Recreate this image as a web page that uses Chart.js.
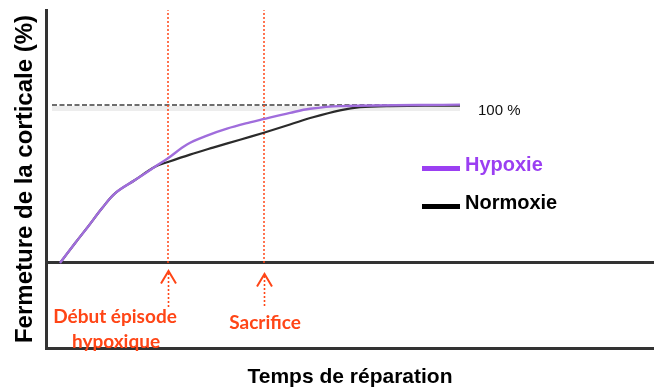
<!DOCTYPE html>
<html>
<head>
<meta charset="utf-8">
<script src="https://cdn.jsdelivr.net/npm/chart.js@4/dist/chart.umd.min.js"></script>
<style>
  html, body { margin: 0; padding: 0; background: #fff; }
  #wrap { width: 654px; height: 390px; }
</style>
</head>
<body>
<div id="wrap"><canvas id="cortex" width="654" height="390"></canvas></div>
<script>
// temps de réparation (unités arbitraires) et fermeture (%)
const tempsHypoxie = [0, 1.5, 2.8, 4.2, 5.5, 7.5, 9.5, 10.8, 12.7, 14.7, 16.7, 19.0, 20.3, 23.0, 25.0, 28.0, 40.0];
const fermetureHypoxie = [0, 12.5, 23.0, 34.6, 44.1, 52.5, 60.9, 66.3, 75.0, 80.6, 85.0, 89.0, 91.0, 95.0, 97.6, 99.3, 100.2];

const tempsNormoxie = [0, 1.5, 2.8, 4.2, 5.5, 7.5, 9.5, 10.8, 13.0, 15.3, 18.0, 20.3, 23.0, 25.3, 28.0, 30.0, 33.0, 40.0];
const fermetureNormoxie = [0, 12.5, 23.0, 34.6, 44.1, 52.5, 60.9, 63.9, 68.6, 73.0, 78.0, 82.3, 87.6, 92.2, 96.6, 98.6, 99.3, 99.6];

const series = ["Hypoxie", "Normoxie"];

// plateau de référence
const plateauX = [-0.8, 40.0];
const plateauY = 100;
const plateauLabel = "100 %";

// événements marqués sur l'axe du temps
const evenements = [10.8, 20.4];
const evenementLabels = [["Début épisode", "hypoxique"], ["Sacrifice"]];

const violet = "#a06ddc";
const violetLegende = "#9b3ff2";
const noir = "#2b2b2b";
const rouge = "#ff4516";

const pts = (xs, ys) => xs.map((x, i) => ({ x: x, y: ys[i] }));

// flèches, libellés, légende et "100 %"
const annotations = {
  id: "annotations",
  afterDraw(chart) {
    const { ctx, scales } = chart;
    const x = scales.x, y = scales.y;
    const y0 = y.getPixelForValue(0);
    ctx.save();

    evenements.forEach((ev, i) => {
      const px = Math.round(x.getPixelForValue(ev)) + 0.5;
      const tip = y0 + 8 + i * 3;
      // pointe de flèche
      ctx.strokeStyle = rouge;
      ctx.lineWidth = 2;
      ctx.setLineDash([]);
      ctx.beginPath();
      ctx.moveTo(px - 7.5, tip + 12.5);
      ctx.lineTo(px, tip);
      ctx.lineTo(px + 7.5, tip + 12.5);
      ctx.stroke();
      // tige pointillée
      ctx.lineWidth = 1.6;
      ctx.setLineDash([2, 2]);
      ctx.beginPath();
      ctx.moveTo(px, tip + 2);
      ctx.lineTo(px, y0 + 45);
      ctx.stroke();
    });
    ctx.setLineDash([]);

    ctx.fillStyle = rouge;
    ctx.font = "bold 19px Lato";
    ctx.textAlign = "center";
    ctx.textBaseline = "middle";
    const p0 = x.getPixelForValue(evenements[0]);
    ctx.fillText(evenementLabels[0][0], p0 - 53, y0 + 54);
    ctx.fillText(evenementLabels[0][1], p0 - 52, y0 + 79);
    const p1 = x.getPixelForValue(evenements[1]);
    ctx.fillText(evenementLabels[1][0], p1 + 1, y0 + 60);

    // "100 %"
    ctx.fillStyle = "#111";
    ctx.font = "15px 'Liberation Sans'";
    ctx.textAlign = "left";
    ctx.fillText(plateauLabel, x.getPixelForValue(plateauX[1]) + 18, y.getPixelForValue(plateauY) + 6);

    // légende
    const couleurs = [violetLegende, "#000"];
    const lx = 422;
    [164, 202].forEach((ly, i) => {
      ctx.fillStyle = couleurs[i];
      ctx.fillRect(lx, ly + 2, 38, 5);
      ctx.font = "bold 20px 'Liberation Sans'";
      ctx.fillText(series[i], lx + 43, ly + 1);
    });
    ctx.restore();
  }
};

// l'ordre des jeux de données : le premier est dessiné au-dessus
const datasets = [
  {
    label: series[0],
    data: pts(tempsHypoxie, fermetureHypoxie),
    borderColor: violet,
    borderWidth: 2.4,
    tension: 0.35,
  },
  {
    label: series[1],
    data: pts(tempsNormoxie, fermetureNormoxie),
    borderColor: noir,
    borderWidth: 2.2,
    tension: 0.35,
  },
  ...evenements.map(ev => ({
    data: [{ x: ev, y: 0 }, { x: ev, y: 160 }],
    borderColor: rouge,
    borderWidth: 1.5,
    borderDash: [2, 2],
  })),
  {
    data: pts(plateauX, [plateauY, plateauY]),
    borderColor: "#6e6e6e",
    borderWidth: 2,
    borderDash: [5, 2.5],
  },
  {
    // ombre grise sous le plateau
    data: pts(plateauX, [plateauY - 2.2, plateauY - 2.2]),
    borderColor: "rgba(0,0,0,0.07)",
    borderWidth: 5,
  },
];

new Chart(document.getElementById("cortex"), {
  type: "line",
  data: { datasets: datasets },
  plugins: [annotations],
  options: {
    responsive: false,
    animation: false,
    events: [],
    layout: { padding: { top: 10, right: 0 } },
    elements: { point: { radius: 0 }, line: { fill: false } },
    plugins: { legend: { display: false }, tooltip: { enabled: false } },
    scales: {
      x: {
        type: "linear",
        min: -1.4,
        max: 59.4,
        afterFit: s => { s.height = 42; },
        grid: { display: false },
        border: { display: true, color: "#333", width: 3 },
        ticks: { display: false },
        title: {
          display: true,
          text: "Temps de réparation",
          color: "#000",
          font: { family: "'Liberation Sans'", size: 21, weight: "bold" },
          padding: { top: 0, bottom: 0 },
        },
      },
      y: {
        min: -53.8,
        max: 160.1,
        afterFit: s => { s.width = 46; },
        afterBuildTicks: s => { s.ticks = [{ value: 0 }]; },
        grid: { color: "#333", lineWidth: 3, drawTicks: false },
        border: { display: true, color: "#333", width: 3 },
        ticks: { display: false },
        title: {
          display: true,
          text: "Fermeture de la corticale (%)",
          color: "#000",
          font: { family: "'Liberation Sans'", size: 24, weight: "bold" },
          padding: { top: 11, bottom: 0 },
        },
      },
    },
  },
});
</script>
</body>
</html>
